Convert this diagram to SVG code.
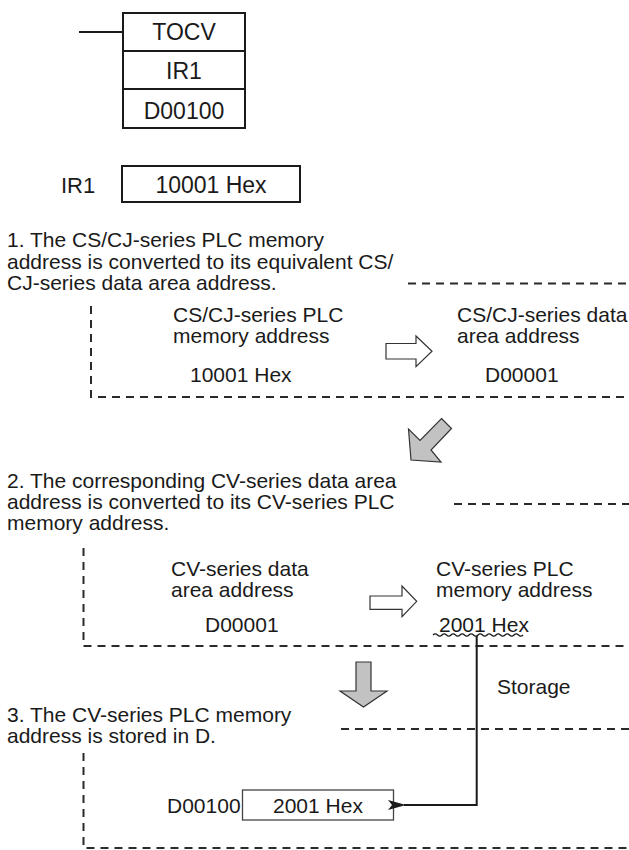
<svg xmlns="http://www.w3.org/2000/svg" width="629" height="850" viewBox="0 0 629 850">
<style>
text{font-family:"Liberation Sans",Arial,sans-serif;font-size:21px;fill:#1a1a1a}
.big{font-size:23px}
.box{fill:#fff;stroke:#1a1a1a;stroke-width:2}
.thin{fill:#fff;stroke:#444;stroke-width:1.3}
.dash{fill:none;stroke:#2a2a2a;stroke-width:2;stroke-dasharray:8 6}
.hollow{fill:#fff;stroke:#333;stroke-width:1.2}
.gray{fill:#c2c2c2;stroke:#333;stroke-width:1.2}
.line{fill:none;stroke:#1a1a1a;stroke-width:2}
</style>
<defs>
<marker id="ah" viewBox="0 0 20 12" refX="2" refY="6" markerWidth="20" markerHeight="12" markerUnits="userSpaceOnUse" orient="auto-start-reverse">
<path d="M0,6 L18,1 L14,6 L18,11 Z" fill="#1a1a1a"/>
</marker>
</defs>

<g id="instruction">
<rect class="box" x="123" y="13" width="122" height="38"/>
<rect class="box" x="123" y="51" width="122" height="38"/>
<rect class="box" x="123" y="89" width="122" height="39"/>
<text class="big" x="184" y="40" text-anchor="middle">TOCV</text>
<text class="big" x="184" y="78.5" text-anchor="middle">IR1</text>
<text class="big" x="184" y="118.5" text-anchor="middle">D00100</text>
</g>

<g id="ir1">
<text x="61" y="193" style="font-size:22px">IR1</text>
<rect class="box" x="122" y="166" width="178" height="36"/>
<text class="big" x="211" y="193" text-anchor="middle">10001 Hex</text>
</g>

<g id="step1">
<text x="7" y="247">1. The CS/CJ-series PLC memory</text>
<text x="7" y="268.5">address is converted to its equivalent CS/</text>
<text x="7" y="289.5">CJ-series data area address.</text>
<path class="dash" d="M408,283.5 H629"/>
<path class="dash" d="M91,306 V397 H629"/>
<text x="173" y="321.5">CS/CJ-series PLC</text>
<text x="173" y="343">memory address</text>
<text x="190" y="381.5">10001 Hex</text>
<text x="457" y="321.5">CS/CJ-series data</text>
<text x="457" y="343">area address</text>
<text x="485" y="381.5">D00001</text>
</g>

<g id="step2">
<text x="7" y="487.5">2. The corresponding CV-series data area</text>
<text x="7" y="508.5">address is converted to its CV-series PLC</text>
<text x="7" y="529.5">memory address.</text>
<path class="dash" d="M454,504 H629"/>
<path class="dash" d="M83.5,548 V646 H629"/>
<text x="171" y="575.5">CV-series data</text>
<text x="171" y="597">area address</text>
<text x="205" y="631.5">D00001</text>
<text x="436" y="575.5">CV-series PLC</text>
<text x="436" y="597">memory address</text>
<text x="439" y="631.5">2001 Hex</text>
<path fill="none" stroke="#1a1a1a" stroke-width="1.3" d="M433,635 q2.25,-2.4 4.5,0 t4.5,0 t4.5,0 t4.5,0 t4.5,0 t4.5,0 t4.5,0 t4.5,0 t4.5,0 t4.5,0 t4.5,0 t4.5,0 t4.5,0 t4.5,0 t4.5,0 t4.5,0 t4.5,0 t4.5,0 t4.5,0 t4.5,0"/>
</g>

<g id="step3">
<text x="7" y="722">3. The CV-series PLC memory</text>
<text x="7" y="743">address is stored in D.</text>
<path class="dash" d="M341,729 H629"/>
<path class="dash" d="M83.5,753 V848 H629"/>
<text x="167" y="813">D00100</text>
<rect class="thin" x="242.5" y="790" width="151" height="30"/>
<text x="273" y="813">2001 Hex</text>
<text x="497" y="694">Storage</text>
</g>

<g id="connectors">
<path class="line" d="M79,32 H123"/>
<polygon class="hollow" points="386,343.5 416,343.5 416,336 432,351.3 416,366.7 416,359 386,359"/>
<polygon class="hollow" points="370,596 402,596 402,586 416.7,601.3 402,616.7 402,609.3 370,609.3"/>
<polygon class="gray" points="441.5,418.5 451.5,428.5 431,450 441,462 411,460 408.5,429 420,440.5"/>
<polygon class="gray" points="356,662 371,662 371,691 387,691 363.5,707 340,691 356,691"/>
<path class="line" d="M476.7,636 V805 H404" marker-end="url(#ah)"/>
</g>
</svg>
